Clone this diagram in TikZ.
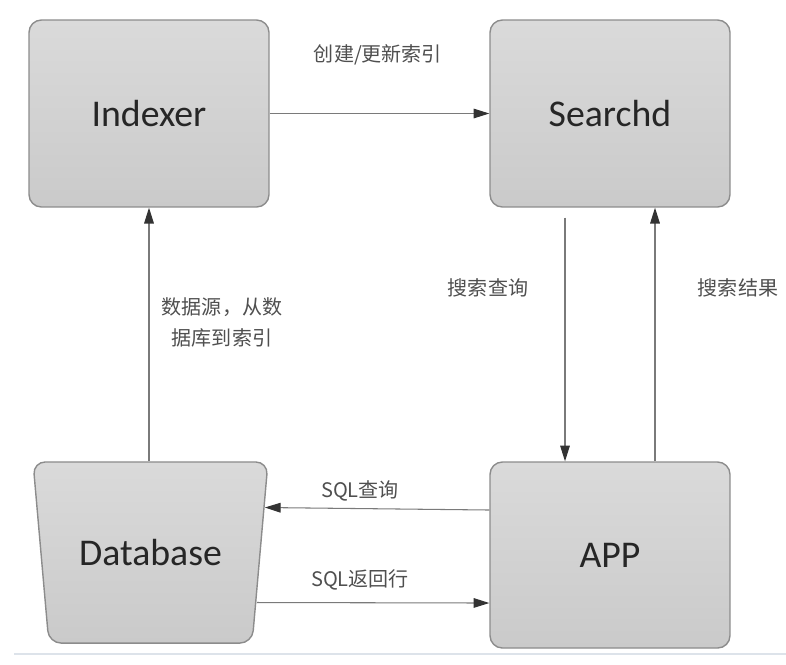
\documentclass[tikz,border=0pt]{standalone}
\usepackage{fontspec}
\setmainfont{Carlito}
\newfontfamily\cjkfont{Noto Sans CJK SC}
\usetikzlibrary{arrows.meta,calc,shapes.geometric}
\definecolor{boxline}{HTML}{8C8C8C}
\definecolor{boxtop}{HTML}{DADADA}
\definecolor{boxbot}{HTML}{CACACA}
\definecolor{wire}{HTML}{7A7A7A}
\definecolor{tip}{HTML}{333333}
\definecolor{note}{HTML}{4F4F4F}
\definecolor{rule}{HTML}{DDE3EA}
\begin{document}
\begin{tikzpicture}[x=0.02cm,y=-0.02cm,
  box/.style={draw=boxline,line width=0.8pt,top color=boxtop,bottom color=boxbot,
    rounded corners=7pt,inner sep=0pt,font=\fontsize{21.5}{24}\selectfont,text=black!85},
  block/.style={box,rectangle,minimum width=4.8cm,minimum height=3.74cm},
  store/.style={box,trapezium,trapezium angle=85,shape border rotate=180,
    trapezium stretches body,inner xsep=0pt,inner ysep=44pt,
    minimum width=4.7cm,minimum height=3.62cm},
  arr/.style={draw=wire,line width=0.6pt,-{Triangle[length=9pt,width=5.5pt,color=tip]}},
  lbl/.style={text=note,font=\cjkfont\fontsize{11.4}{17.6}\selectfont,align=center,inner sep=0pt}]
\useasboundingbox (0,0) rectangle (786,664);
\draw[rule,line width=1.2pt] (14,654) -- (786,654);
\node[block] (idx) at (149,113.5) {Indexer};
\node[block] (sd) at (610,113.5) {Searchd};
\node[store] (db) at (150.5,552.5) {Database};
\node[block,minimum height=3.72cm] (app) at (610,555) {APP};
\draw[arr] (idx.east) -- (sd.west);
\draw[arr] (db.north -| idx.south) -- (idx.south);
\draw[arr] ($(sd.south)+(-45,10)$) -- ($(app.north)+(-45,0)$);
\draw[arr] ($(app.north)+(45,0)$) -- ($(sd.south)+(45,0)$);
\draw[arr] ($(app.west)+(0,-45)$) -- ($(db.east)+(4,-45)$);
\draw[arr] ($(db.east)+(-4,50)$) -- ($(app.west)+(0,48)$);
\node[lbl] (l1) at (378,55) {创建/更新索引};
\node[lbl] (l2) at (222,322) {数据源，从数\\据库到索引};
\node[lbl] (l3) at (488,288) {搜索查询};
\node[lbl] (l4) at (738,288) {搜索结果};
\node[lbl] (l5) at (360,491) {SQL查询};
\node[lbl] (l6) at (360,580) {SQL返回行};
\end{tikzpicture}
\end{document}
